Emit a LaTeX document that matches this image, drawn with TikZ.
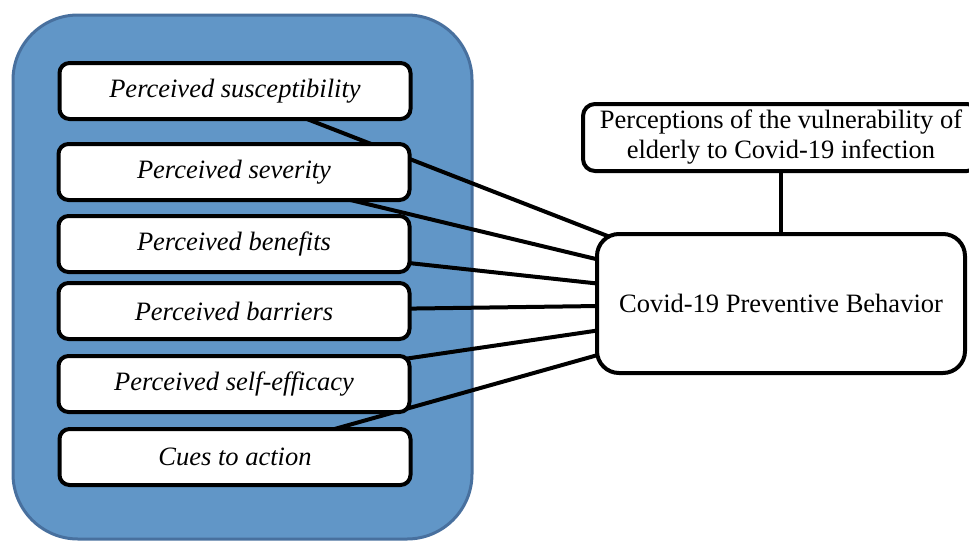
\documentclass[tikz,border=0pt]{standalone}
\usepackage{fontspec}
\setmainfont{Liberation Serif}
\pgfdeclarelayer{bgzero}
\pgfdeclarelayer{bgone}
\pgfsetlayers{bgzero,bgone,main}
\definecolor{hbmfill}{RGB}{97,150,199}
\definecolor{hbmedge}{RGB}{72,112,158}
\begin{document}
\begin{tikzpicture}[x=1pt,y=-1pt,
  factor/.style={draw=black,line width=4pt,fill=white,rounded corners=10pt,
    minimum width=351pt,minimum height=56pt,inner sep=0pt,
    font=\fontsize{26.5}{30}\selectfont\itshape},
  outbox/.style={draw=black,line width=4pt,fill=white,inner sep=0pt},
  link/.style={line width=4pt,black}]
\useasboundingbox (0,0) rectangle (969,541);
\begin{scope}
\clip (0,0) rectangle (969,541);
\begin{pgfonlayer}{bgzero}
\draw[fill=hbmfill,draw=hbmedge,line width=3pt,rounded corners=65pt] (13,15) rectangle (472,539);
\end{pgfonlayer}
\node[factor] (b1) at (235,91) {Perceived susceptibility};
\node[factor] (b2) at (234,172) {Perceived severity};
\node[factor] (b3) at (234,244) {Perceived benefits};
\node[factor] (b4) at (234,311) {Perceived barriers};
\node[factor] (b5) at (234,384) {Perceived self-efficacy};
\node[factor] (b6) at (235,457) {Cues to action};
\node[outbox,rounded corners=22pt,minimum width=368pt,minimum height=139pt,
  font=\fontsize{26.5}{30}\selectfont] (cov) at (781,303.5) {Covid-19 Preventive Behavior};
\node[outbox,rounded corners=12pt,minimum width=396pt,minimum height=67pt,
  align=center,font=\fontsize{26.5}{30}\selectfont] (vul) at (781,137.5)
  {Perceptions of the vulnerability of\\elderly to Covid-19 infection};
\begin{pgfonlayer}{bgone}
\foreach \b in {b1,b2,b3,b4,b5,b6} \draw[link] (\b.center) -- (cov.center);
\end{pgfonlayer}
\draw[link] (vul.south) -- (cov.north);
\end{scope}
\end{tikzpicture}
\end{document}
